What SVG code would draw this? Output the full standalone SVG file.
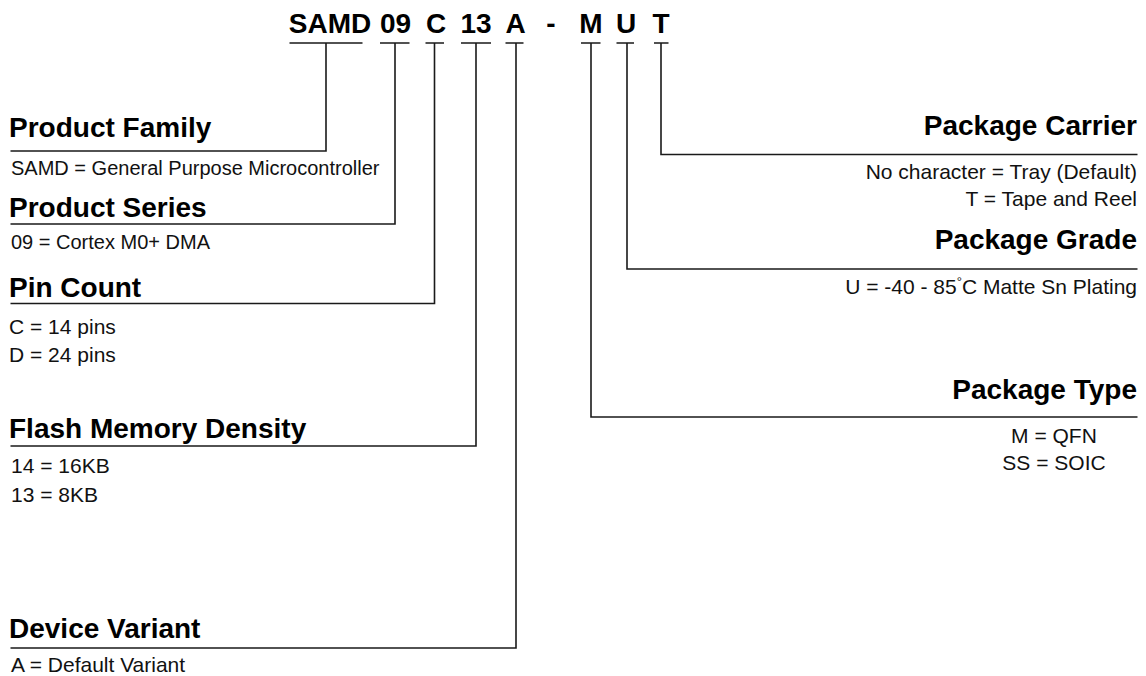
<svg xmlns="http://www.w3.org/2000/svg" width="1146" height="676" viewBox="0 0 1146 676">
<style>
.code{font-family:"Liberation Sans",Arial,sans-serif;font-weight:bold;font-size:28px;fill:#000;text-anchor:middle}
.h{font-family:"Liberation Sans",Arial,sans-serif;font-weight:bold;font-size:28px;fill:#000}
.t{font-family:"Liberation Sans",Arial,sans-serif;font-size:21px;fill:#111}
.s{font-size:20px}
.r{text-anchor:end}
.m{text-anchor:middle}
.ln{stroke:#1a1a1a;stroke-width:1.6;fill:none}
</style>
<rect width="1146" height="676" fill="#fff"/>
<g id="part-number">
<text class="code" x="330" y="32.5">SAMD</text>
<text class="code" x="395.5" y="32.5">09</text>
<text class="code" x="436" y="32.5">C</text>
<text class="code" x="476" y="32.5">13</text>
<text class="code" x="515.5" y="32.5">A</text>
<text class="code" x="551" y="32.5">-</text>
<text class="code" x="591" y="32.5">M</text>
<text class="code" x="626" y="32.5">U</text>
<text class="code" x="661" y="32.5">T</text>
</g>
<g id="connectors" class="ln">
<path d="M289.5 43H362.5M380 43H409.5M425.5 43H444M461 43H491M505.5 43H523.5M581 43H600.5M616.5 43H634M654 43H668.5"/>
<path d="M326 43V151H10.5"/>
<path d="M395 43V224H10.5"/>
<path d="M434.5 43V303.5H10.5"/>
<path d="M476 43V446H10.5"/>
<path d="M516 43V648H10.5"/>
<path d="M661 43V154.5H1137.5"/>
<path d="M627 43V269H1137.5"/>
<path d="M591 43V417H1137.5"/>
</g>
<g id="product-family">
<text class="h" x="9" y="137">Product Family</text>
<text class="t s" x="11" y="175">SAMD = General Purpose Microcontroller</text>
</g>
<g id="product-series">
<text class="h" x="9" y="216.5">Product Series</text>
<text class="t s" x="11" y="249">09 = Cortex M0+ DMA</text>
</g>
<g id="pin-count">
<text class="h" x="9" y="296.5">Pin Count</text>
<text class="t" x="9" y="334">C = 14 pins</text>
<text class="t" x="9" y="362">D = 24 pins</text>
</g>
<g id="flash-memory-density">
<text class="h" x="9" y="438">Flash Memory Density</text>
<text class="t" x="11" y="473">14 = 16KB</text>
<text class="t" x="11" y="502">13 = 8KB</text>
</g>
<g id="device-variant">
<text class="h" x="9" y="638">Device Variant</text>
<text class="t" x="11" y="672">A = Default Variant</text>
</g>
<g id="package-carrier">
<text class="h r" x="1137" y="135">Package Carrier</text>
<text class="t r" x="1137" y="178.5">No character = Tray (Default)</text>
<text class="t r" x="1137" y="205.5">T = Tape and Reel</text>
</g>
<g id="package-grade">
<text class="h r" x="1137" y="248.5">Package Grade</text>
<text class="t r" x="1137" y="294">U = -40 - 85<tspan font-size="13" dy="-8">°</tspan><tspan dy="8">C Matte Sn Plating</tspan></text>
</g>
<g id="package-type">
<text class="h r" x="1137" y="398.5">Package Type</text>
<text class="t m" x="1054" y="443">M = QFN</text>
<text class="t m" x="1054" y="470">SS = SOIC</text>
</g>
</svg>
